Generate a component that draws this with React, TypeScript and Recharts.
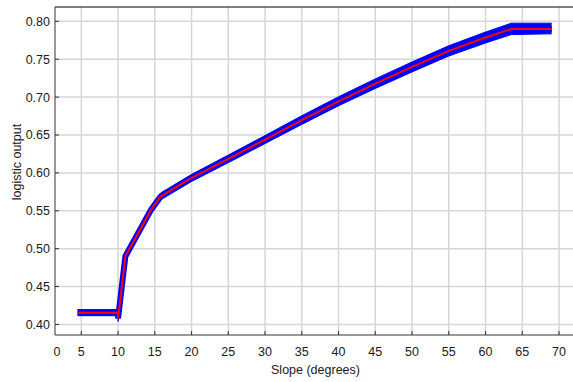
import React from 'react';
import { ComposedChart, Line, Area, XAxis, YAxis, CartesianGrid } from 'recharts';

// slope (degrees) sample positions along the curve
const slopeDeg = [4.5, 10, 10, 11, 14.5, 15.8, 17, 20, 25, 30, 35, 40, 45, 50, 55, 60, 63.5, 69];
// fitted logistic output (red line)
const fitted = [0.4156, 0.4156, 0.408, 0.49, 0.5515, 0.569, 0.576, 0.5934, 0.6185, 0.644, 0.6697, 0.6945, 0.7177, 0.7398, 0.761, 0.7786, 0.7898, 0.7898];
// spread of the blue observations
const bandUpper = [0.4196, 0.4196, 0.412, 0.494, 0.556, 0.5735, 0.5805, 0.598, 0.6235, 0.6493, 0.6754, 0.7005, 0.724, 0.7464, 0.7678, 0.7858, 0.7975, 0.7975];
const bandLower = [0.4116, 0.4116, 0.404, 0.486, 0.547, 0.5645, 0.5715, 0.5887, 0.6135, 0.6387, 0.664, 0.6885, 0.7114, 0.7332, 0.7542, 0.7714, 0.7825, 0.7835];

const xTicks = [0, 5, 10, 15, 20, 25, 30, 35, 40, 45, 50, 55, 60, 65, 70];
const xGridTicks = [5, 10, 15, 20, 25, 30, 35, 40, 45, 50, 55, 60, 65, 70];
const yTicks = [0.4, 0.45, 0.5, 0.55, 0.6, 0.65, 0.7, 0.75, 0.8];

const data = slopeDeg.map((s, i) => ({
  slope: s,
  fit: fitted[i],
  band: [bandLower[i], bandUpper[i]],
}));

const FONT = '"Liberation Sans", Arial, sans-serif';
const TEXT = '#1a1a1a';
const PLOT_LEFT = 55;
const X_DOMAIN: [number, number] = [1.42, 72.04];
const Y_DOMAIN: [number, number] = [0.3861, 0.8189];

function SlopeTick(props: any) {
  const { x, y, payload } = props;
  const tx = Math.max(x, PLOT_LEFT + 2);
  return (
    <g>
      {payload.value !== 0 && (
        <line x1={x} x2={x} y1={y - 12} y2={y - 16} stroke="#333" />
      )}
      <text x={tx} y={y} dy="0.71em" textAnchor="middle" fontSize={12.5} fontFamily={FONT} fill={TEXT}>
        {payload.value}
      </text>
    </g>
  );
}

export default function App() {
  return (
    <div style={{ position: 'absolute', left: 0, top: 0, width: 573, height: 382, overflow: 'hidden', background: '#fff' }}>
      <ComposedChart width={575} height={382} data={data} margin={{ top: 0, right: 0, bottom: 0, left: 0 }}>
        <CartesianGrid stroke="#d6d6d6" strokeWidth={1.5} verticalValues={xGridTicks} horizontalValues={yTicks} />
        <XAxis
          dataKey="slope"
          type="number"
          domain={X_DOMAIN}
          allowDataOverflow
          ticks={xTicks}
          interval={0}
          height={47}
          tickSize={0}
          tickMargin={12}
          tickLine={false}
          axisLine={{ stroke: '#333' }}
          tick={<SlopeTick />}
          label={{
            content: (p: any) => {
              const vb = p.viewBox;
              return (
                <text x={vb.x + vb.width / 2 + 1} y={vb.y + vb.height - 8} textAnchor="middle" fontSize={12.5} fontFamily={FONT} fill={TEXT}>
                  Slope (degrees)
                </text>
              );
            },
          }}
        />
        <XAxis
          xAxisId="top"
          orientation="top"
          dataKey="slope"
          type="number"
          domain={X_DOMAIN}
          allowDataOverflow
          ticks={xGridTicks}
          interval={0}
          height={7}
          tick={false}
          tickSize={-4}
          tickLine={{ stroke: '#333' }}
          axisLine={{ stroke: '#000' }}
        />
        <YAxis
          type="number"
          domain={Y_DOMAIN}
          allowDataOverflow
          ticks={yTicks}
          interval={0}
          width={55}
          tickSize={-4}
          tickMargin={9}
          tickLine={{ stroke: '#333' }}
          axisLine={{ stroke: '#333' }}
          tick={{ fontSize: 12.5, fontFamily: FONT, fill: TEXT }}
          tickFormatter={(v: number) => v.toFixed(2)}
          label={{
            content: (p: any) => {
              const vb = p.viewBox;
              const cx = vb.x + 21;
              const cy = 162;
              return (
                <text x={cx} y={cy} transform={`rotate(-90, ${cx}, ${cy})`} textAnchor="middle" fontSize={12.5} fontFamily={FONT} fill={TEXT}>
                  logistic output
                </text>
              );
            },
          }}
        />
        <YAxis
          yAxisId="right"
          orientation="right"
          type="number"
          domain={Y_DOMAIN}
          allowDataOverflow
          ticks={yTicks}
          interval={0}
          width={1}
          tick={false}
          tickSize={-4}
          tickLine={{ stroke: '#333' }}
          axisLine={{ stroke: '#000' }}
        />

        {/* observations */}
        <Area
          type="linear"
          dataKey="band"
          stroke="#0000ff"
          strokeWidth={1}
          fill="#0000ff"
          fillOpacity={1}
          isAnimationActive={false}
        />
        <Line
          type="linear"
          dataKey="fit"
          stroke="#0000ff"
          strokeWidth={6}
          dot={false}
          isAnimationActive={false}
        />
        {/* fitted curve */}
        <Line
          type="linear"
          dataKey="fit"
          stroke="#ff0000"
          strokeWidth={2}
          dot={false}
          isAnimationActive={false}
        />
      </ComposedChart>
    </div>
  );
}
